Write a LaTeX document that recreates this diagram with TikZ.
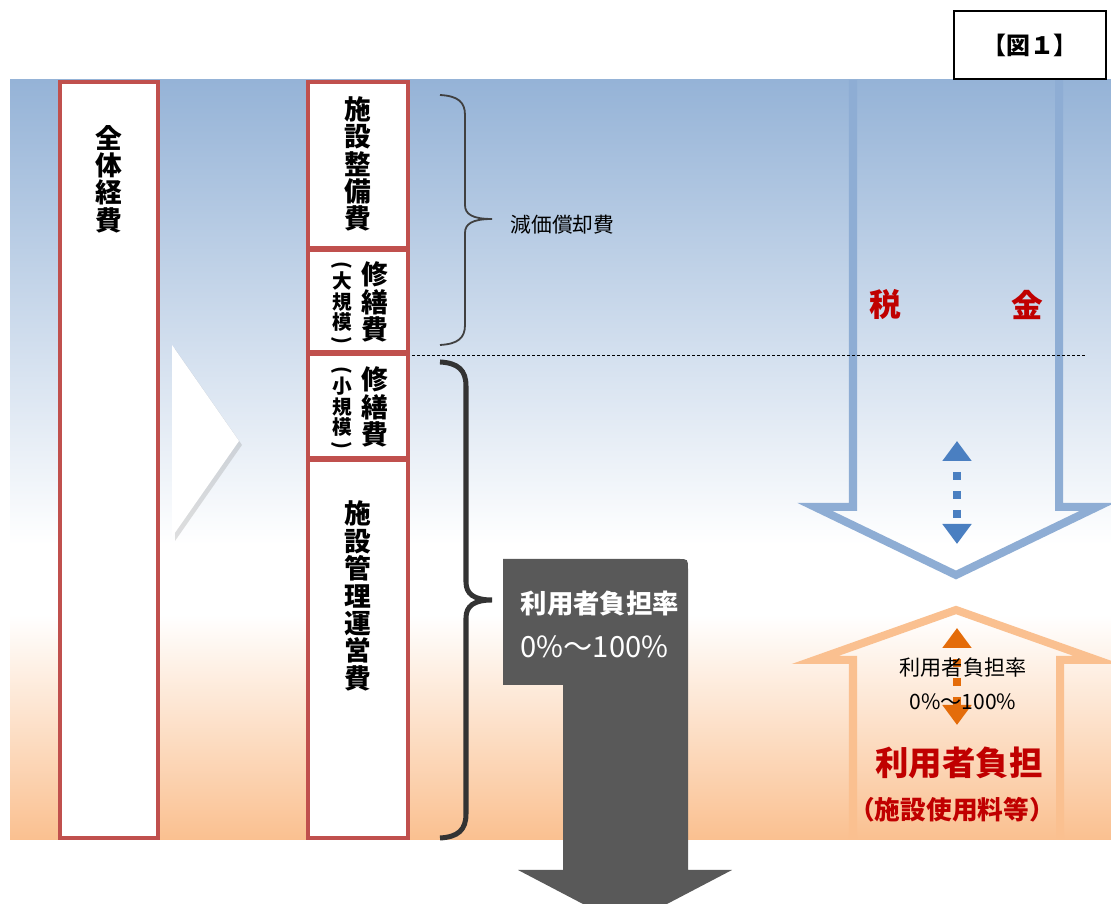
\documentclass[tikz,border=0pt]{standalone}
\usepackage{fontspec}
\usepackage{graphicx}
\setmainfont{Noto Sans CJK JP}
\usetikzlibrary{arrows.meta,shadows}
\definecolor{skyblue}{HTML}{95B3D7}
\definecolor{arrowblue}{HTML}{8EADD4}
\definecolor{peach}{HTML}{FAC090}
\definecolor{boxred}{HTML}{C0504D}
\definecolor{taxred}{HTML}{C00000}
\definecolor{darkarrow}{HTML}{595959}
\definecolor{dotblue}{HTML}{4A7FC1}
\definecolor{dotorange}{HTML}{E46C0A}
\newcommand{\tateopen}{\rotatebox[origin=c]{-90}{(}}
\newcommand{\tateclose}{\rotatebox[origin=c]{-90}{)}}

\begin{document}
\begin{tikzpicture}[x=0.01cm, y=-0.01cm]
\tikzset{
    costbox/.style={draw=boxred, line width=0.04cm, fill=white},
    tate/.style={align=center, inner sep=0pt, font=\bfseries\fontsize{7.6}{7.8}\selectfont},
    tatesmall/.style={align=center, inner sep=0pt, font=\bfseries\fontsize{5.6}{5.8}\selectfont},
    outline/.style={line width=0.08cm, line join=miter},
    dbl/.style={line width=0.08cm, dash pattern=on 0.08cm off 0.11cm, dash phase=0.07cm,
        {Triangle[width=0.28cm,length=0.2cm]}-{Triangle[width=0.28cm,length=0.2cm]}}
}
\useasboundingbox (0,0) rectangle (1111,904);
% background
\fill[top color=skyblue, bottom color=white] (10,80) rectangle (1111,545);
\fill[white] (10,545) rectangle (1111,615);
\fill[top color=white, bottom color=peach] (10,615) rectangle (1111,840);
% tax and user arrows
\draw[outline, arrowblue] (853,80) -- (853,507) -- (815,507) -- (956,575) -- (1097,507) -- (1059,507) -- (1059,80);
\draw[outline, peach] (853,840) -- (853,660) -- (815,660) -- (956,610) -- (1097,660) -- (1060,660) -- (1060,840);
\draw[line width=0.01cm, dash pattern=on 0.03cm off 0.02cm] (412,356) -- (1087,356);
% figure label
\node[draw, line width=0.015cm, fill=white, minimum width=1.52cm, minimum height=0.68cm,
    font=\bfseries\fontsize{6.8}{7}\selectfont] (zu) at (1030,45) {【図１】};
% cost columns
\fill[white, drop shadow={shadow xshift=0.03cm, shadow yshift=-0.04cm, opacity=0.25}] (172,345) -- (239,441) -- (172,537) -- cycle;
\draw[costbox] (60,82) rectangle (158,838);
\draw[costbox] (308,82) rectangle (408,248);
\draw[costbox] (308,250) rectangle (408,352);
\draw[costbox] (308,354) rectangle (408,458);
\draw[costbox] (308,460) rectangle (408,838);
\node[tate] (zentai) at (109,179) {全\\体\\経\\費};
\node[tate] (seibi) at (358,164) {施\\設\\整\\備\\費};
\node[tate] (daishu) at (375,302) {修\\繕\\費};
\node[tatesmall] (daiki) at (342,304) {\tateopen\\[-1pt]大\\規\\模\\[-1pt]\tateclose};
\node[tate] (shoshu) at (375,407) {修\\繕\\費};
\node[tatesmall] (shoki) at (342,409) {\tateopen\\[-1pt]小\\規\\模\\[-1pt]\tateclose};
\node[tate] (kanri) at (358,596) {施\\設\\管\\理\\運\\営\\費};
% braces
\draw[line width=0.018cm, black!75] (440,95) .. controls (458,96) and (465,102) .. (465,115) -- (465,205)
    .. controls (465,214) and (472,219) .. (492,219) .. controls (472,219) and (465,224) .. (465,233)
    -- (465,325) .. controls (465,338) and (458,344) .. (440,345);
\draw[line width=0.05cm, black!80] (440,362) .. controls (458,363) and (466,370) .. (466,386) -- (466,582)
    .. controls (466,594) and (474,600) .. (492,600) .. controls (474,600) and (466,606) .. (466,618)
    -- (466,814) .. controls (466,830) and (458,837) .. (440,838);
\node[anchor=west, inner sep=0pt, font=\fontsize{5.9}{6}\selectfont] (genka) at (510,225) {減価償却費};
% dark arrow
\fill[darkarrow] (503,559) -- (678,559) .. controls (688,559) .. (688,569) -- (688,870) -- (732,870)
    -- (625,926) -- (518,870) -- (563,870) -- (563,685) -- (503,685) -- cycle;
\node[anchor=west, inner sep=0pt, text=white, font=\bfseries\fontsize{7.5}{8}\selectfont] (ritsu) at (520,604) {利用者負担率};
\node[anchor=west, inner sep=0pt, text=white, font=\fontsize{8.3}{9}\selectfont] (pct) at (520,647) {0\%〜100\%};
% right side
\node[text=taxred, font=\bfseries\fontsize{9}{9}\selectfont] (zei) at (885,305) {税};
\node[text=taxred, font=\bfseries\fontsize{9}{9}\selectfont] (kin) at (1027,305) {金};
\coordinate (bluetop) at (957,441);
\coordinate (bluebot) at (957,544);
\draw[dbl, dotblue] (bluetop) -- (bluebot);
\coordinate (orgtop) at (957,628);
\coordinate (orgbot) at (957,725);
\draw[dbl, dotorange] (orgtop) -- (orgbot);
\node[font=\fontsize{6}{7}\selectfont] (ritsu2) at (963,668) {利用者負担率};
\node[font=\fontsize{6}{7}\selectfont] (pct2) at (963,702) {0\%〜100\%};
\node[text=taxred, font=\bfseries\fontsize{9.5}{10}\selectfont] (futan) at (959,763) {利用者負担};
\node[text=taxred, font=\bfseries\fontsize{7.3}{8}\selectfont] (ryokin) at (952,810) {（施設使用料等）};
\end{tikzpicture}
\end{document}
